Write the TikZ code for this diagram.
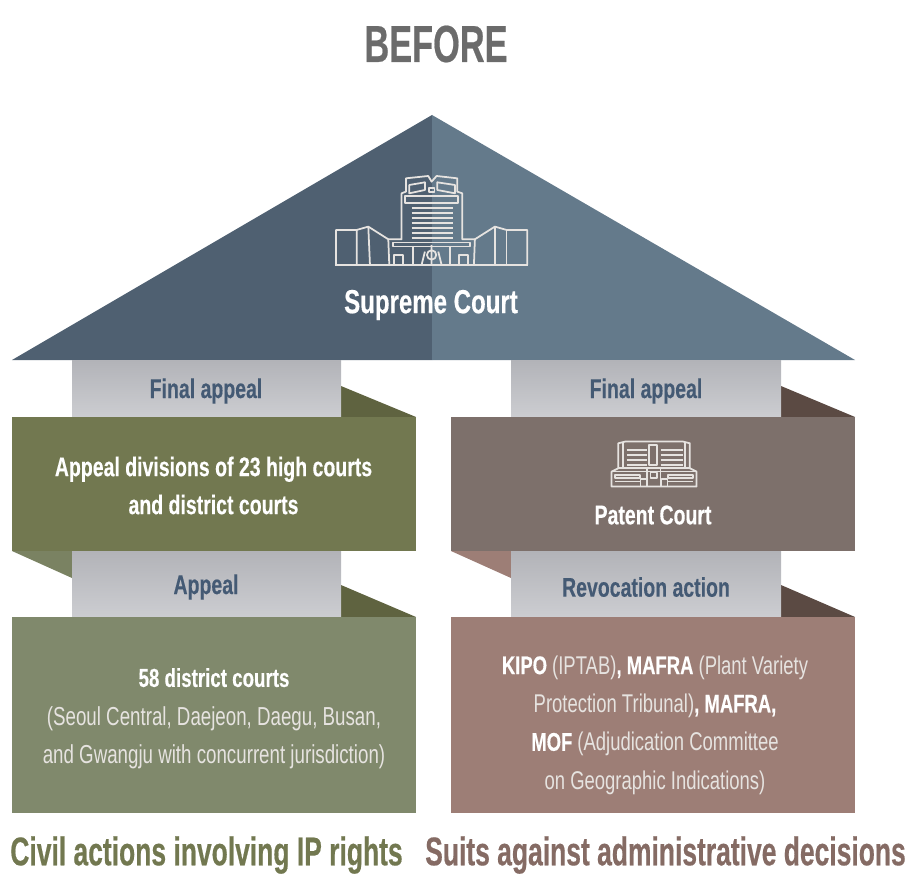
\documentclass[tikz,border=0pt]{standalone}
\usepackage{fontspec}
\setmainfont{Liberation Sans}[FakeStretch=0.72,BoldFeatures={FakeBold=0.3}]
\newfontfamily\headfont{Liberation Sans}[FakeStretch=0.66,BoldFeatures={FakeBold=0.4}]
\definecolor{roofL}{HTML}{4F6071}
\definecolor{roofR}{HTML}{647A8B}
\definecolor{oliveD}{HTML}{727850}
\definecolor{oliveL}{HTML}{80896C}
\definecolor{oliveM}{HTML}{7A8262}
\definecolor{oliveF}{HTML}{5F6340}
\definecolor{brownD}{HTML}{7D706B}
\definecolor{brownL}{HTML}{9D7E76}
\definecolor{brownF}{HTML}{5B4A43}
\definecolor{labelC}{HTML}{445A74}
\definecolor{softW}{HTML}{E6E3E0}
\definecolor{greyT}{HTML}{B2B3B8}
\definecolor{greyB}{HTML}{CCCDD1}
\tikzset{
greybox/.style={top color=greyT, bottom color=greyB},
steptext/.style={text=labelC, font=\fontsize{7.7}{9}\selectfont\bfseries},
whitetext/.style={text=white, align=center, font=\fontsize{7.7}{10.8}\selectfont\bfseries},
softtext/.style={text=softW, align=center, font=\fontsize{7.4}{10.9}\selectfont},
foottext/.style={font=\headfont\fontsize{11.4}{13}\selectfont\bfseries},
icon/.style={draw=softW, line width=0.5pt, line join=round}
}
\begin{document}
\begin{tikzpicture}
\useasboundingbox (0,0) rectangle (9.07,-8.75);
%titolo
\node[text=black!58, font=\headfont\fontsize{14.8}{16}\selectfont\bfseries] (title) at (4.36,-0.44) {BEFORE};
%tetto
\fill[roofL] (0.12,-3.60) -- (4.32,-1.15) -- (4.32,-3.60) -- cycle;
\fill[roofR] (8.55,-3.60) -- (4.32,-1.15) -- (4.32,-3.60) -- cycle;
%colonna sinistra
\fill[oliveF] (3.41,-3.86) -- (4.16,-4.17) -- (3.41,-4.17) -- cycle;
\shade[greybox] (0.72,-3.60) rectangle (3.41,-4.17);
\fill[oliveD] (0.12,-4.17) rectangle (4.16,-5.51);
\fill[oliveM] (0.12,-5.51) -- (0.72,-5.78) -- (0.72,-5.51) -- cycle;
\fill[oliveF] (3.41,-5.85) -- (4.16,-6.17) -- (3.41,-6.17) -- cycle;
\shade[greybox] (0.72,-5.51) rectangle (3.41,-6.17);
\fill[oliveL] (0.12,-6.17) rectangle (4.16,-8.13);
%colonna destra
\fill[brownF] (7.81,-3.86) -- (8.55,-4.17) -- (7.81,-4.17) -- cycle;
\shade[greybox] (5.11,-3.60) rectangle (7.81,-4.17);
\fill[brownD] (4.51,-4.17) rectangle (8.55,-5.51);
\fill[brownL] (4.51,-5.51) -- (5.11,-5.78) -- (5.11,-5.51) -- cycle;
\fill[brownF] (7.81,-5.85) -- (8.55,-6.17) -- (7.81,-6.17) -- cycle;
\shade[greybox] (5.11,-5.51) rectangle (7.81,-6.17);
\fill[brownL] (4.51,-6.17) rectangle (8.55,-8.13);
%icona corte suprema
\begin{scope}[shift={(3,-1.5)}, x=0.01cm/3, y=-0.01cm/3]
\draw[icon] (105,345) -- (685,345);
\draw[icon] (108,345) -- (108,240) -- (170,240) -- (205,230) -- (265,268) -- (268,345);
\draw[icon] (170,240) -- (170,345) (205,230) -- (210,345);
\draw[icon] (682,345) -- (682,240) -- (620,240) -- (585,230) -- (525,268) -- (522,345);
\draw[icon] (620,240) -- (620,345) (585,230) -- (585,345);
\draw[icon] (265,268) -- (305,268) -- (305,130) -- (318,125) -- (318,85) -- (385,78) -- (395,95) -- (410,78) -- (472,85) -- (472,125) -- (487,130) -- (487,268) -- (525,268);
\draw[icon] (328,105) -- (375,97) -- (375,120) -- (328,130) -- cycle;
\draw[icon] (412,97) -- (465,105) -- (465,130) -- (412,120) -- cycle;
\draw[icon] (388,113) rectangle (404,125);
\draw[icon] (315,138) -- (475,138) -- (475,160) -- (315,160) -- cycle;
\foreach \y in {175,190,...,265}{
\draw[icon] (335,\y) -- (458,\y);
}
\draw[icon] (280,278) rectangle (510,290);
\draw[icon] (283,345) rectangle (310,315);
\draw[icon] (478,345) rectangle (505,315);
\draw[icon] (340,345) -- (340,292) (450,345) -- (450,292);
\draw[icon] (395,315) circle (14);
\draw[icon] (395,285) -- (395,345) (365,345) -- (375,305) (425,345) -- (415,305);
\end{scope}
%icona corte brevetti
\begin{scope}[shift={(4.4,-3.5)}, x=0.01cm/3, y=-0.01cm/3]
\draw[icon] (515,410) -- (515,365) -- (535,355) -- (535,280) -- (555,275) -- (730,275) -- (750,280) -- (750,355) -- (770,365) -- (770,410) -- cycle;
\foreach \y in {300,315,...,345}{
\draw[icon] (560,\y) -- (622,\y);
\draw[icon] (662,\y) -- (728,\y);
}
\draw[icon] (628,285) rectangle (652,345);
\draw[icon] (535,355) -- (750,355);
\draw[icon] (550,280) -- (550,355) (735,280) -- (735,355);
\draw[icon] (515,365) -- (770,365);
\draw[icon] (525,375) rectangle (600,385);
\draw[icon] (685,375) rectangle (760,385);
\draw[icon] (525,395) -- (600,395) (685,395) -- (760,395);
\draw[icon] (622,355) rectangle (662,410);
\draw[icon] (602,388) rectangle (620,410);
\draw[icon] (665,388) rectangle (683,410);
\draw[icon] (632,368) rectangle (652,384);
\end{scope}
%testi
\node[whitetext, font=\fontsize{9.5}{11}\selectfont\bfseries] (supreme) at (4.31,-3.05) {Supreme Court};
\node[steptext] (finalL) at (2.06,-3.91) {Final appeal};
\node[steptext] (finalR) at (6.46,-3.91) {Final appeal};
\node[whitetext] (high) at (2.135,-4.855) {Appeal divisions of 23 high courts\\and district courts};
\node[whitetext] (patent) at (6.53,-5.15) {Patent Court};
\node[steptext] (appeal) at (2.06,-5.87) {Appeal};
\node[steptext] (revoc) at (6.46,-5.87) {Revocation action};
\node[softtext] (district) at (2.14,-7.185) {{\bfseries\color{white}58 district courts}\\(Seoul Central, Daejeon, Daegu, Busan,\\and Gwangju with concurrent jurisdiction)};
\node[softtext, font=\fontsize{7.3}{10.9}\selectfont] (kipo) at (6.55,-7.25) {{\bfseries\color{white}KIPO} (IPTAB){\bfseries\color{white}, MAFRA} (Plant Variety\\Protection Tribunal){\bfseries\color{white}, MAFRA,}\\{\bfseries\color{white}MOF} (Adjudication Committee\\on Geographic Indications)};
\node[foottext, text=oliveD] (civil) at (2.065,-8.55) {Civil actions involving IP rights};
\node[foottext, text=brownL!85!black] (suits) at (6.655,-8.55) {Suits against administrative decisions};
\end{tikzpicture}
\end{document}
